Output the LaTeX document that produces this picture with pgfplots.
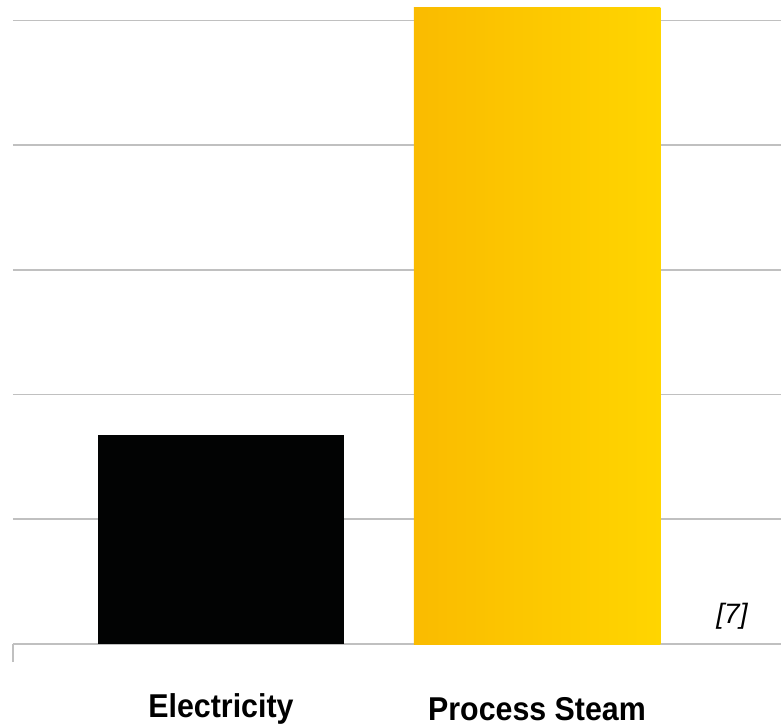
\documentclass[border=0pt]{standalone}
\usepackage{fontspec}
\setmainfont{Liberation Sans}
\newfontfamily\condfont[FakeStretch=0.92]{Liberation Sans}
\usepackage{pgfplots}
\pgfplotsset{compat=1.18}
\definecolor{gridgray}{HTML}{C0C0C0}
\definecolor{barblack}{HTML}{020303}
\definecolor{goldL}{HTML}{FABB00}
\definecolor{goldR}{HTML}{FFD500}
\begin{document}
\begin{tikzpicture}[x=1pt,y=1pt]
\useasboundingbox (0,0) rectangle (781,726);
\begin{axis}[
  at={(13pt,82pt)}, anchor=south west,
  scale only axis,
  width=768pt, height=638pt,
  xmin=-0.658, xmax=1.772,
  ymin=0, ymax=5.116,
  ybar, bar shift=0pt, bar width=0.78,
  axis line style={draw=none},
  xtick={0,1},
  xticklabels={Electricity, Process Steam},
  major tick length=0pt,
  xtick pos=bottom, ytick pos=left,
  xticklabel style={anchor=center, yshift=-65pt, font=\condfont\bfseries\fontsize{33}{40}\selectfont, text=black},
  extra x ticks={-0.658},
  extra x tick labels={},
  extra x tick style={major tick length=18pt, tick align=outside, tick style={draw=gridgray, line width=1.8pt}},
  ytick={0,1,2,3,4,5},
  yticklabels={},
  ymajorgrids,
  grid style={draw=gridgray, line width=1.8pt},
  clip=false,
]
\addplot[draw=none, fill=barblack] coordinates {(0,1.676)};
\addplot[draw=none, left color=goldL, right color=goldR] coordinates {(1,5.104)};
\node[font=\itshape\fontsize{28}{34}\selectfont, anchor=center] at (axis cs:1.617,0.2245) {[7]};
\end{axis}
\end{tikzpicture}
\end{document}
